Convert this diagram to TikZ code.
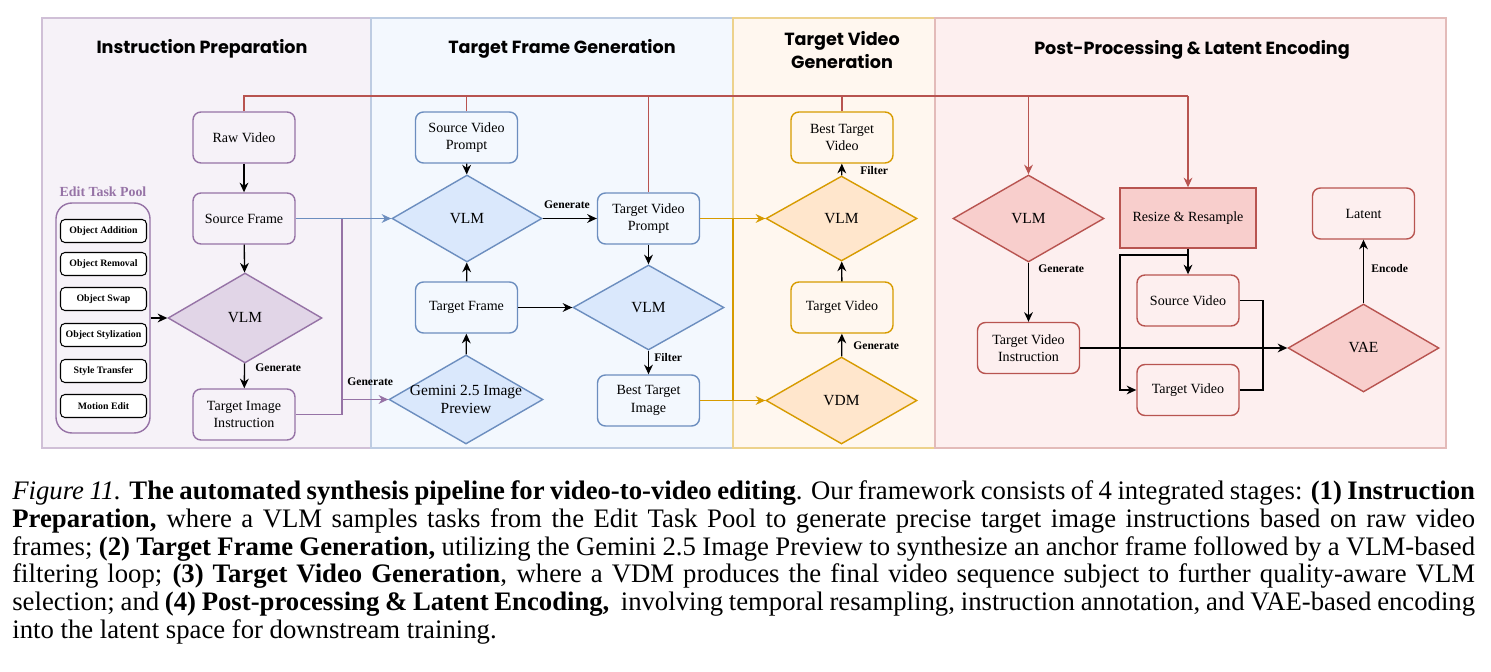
\documentclass[tikz,border=0pt]{standalone}
\usepackage{fontspec}
\setmainfont{Liberation Serif}
\newfontfamily\titlefont{Poppins}
\usetikzlibrary{arrows.meta, shapes.geometric}
\usepackage{xcolor}

\definecolor{purpLine}{HTML}{9673A6}
\definecolor{purpFill}{HTML}{E1D5E7}
\definecolor{blueLine}{HTML}{6C8EBF}
\definecolor{blueFill}{HTML}{DAE8FC}
\definecolor{orgLine}{HTML}{D79B00}
\definecolor{orgFill}{HTML}{FFE6CC}
\definecolor{redLine}{HTML}{B85450}
\definecolor{redFill}{HTML}{F8CECC}

\begin{document}
\begin{tikzpicture}[
    x=0.02cm, y=-0.02cm,
    every node/.style={font=\fontsize{8}{10}\selectfont},
    box/.style={rectangle, draw, rounded corners=4.5pt, line width=0.8pt, align=center, minimum width=2.04cm, minimum height=1.02cm, inner sep=1pt},
    dia/.style={diamond, draw, line width=0.8pt, minimum width=3.02cm, minimum height=1.74cm, inner sep=0pt, font=\fontsize{8.8}{10.5}\selectfont},
    task/.style={rectangle, draw, rounded corners=2.5pt, fill=white, line width=0.6pt, minimum width=1.72cm, minimum height=0.46cm, inner sep=0pt, font=\bfseries\fontsize{5.6}{6.5}\selectfont},
    lbl/.style={anchor=west, inner sep=0pt, font=\bfseries\fontsize{6.6}{8}\selectfont},
    title/.style={align=center, font=\titlefont\bfseries\fontsize{10}{13}\selectfont},
    lane/.style={line width=0.8pt},
    arr/.style={draw, line width=0.75pt, -{Stealth[length=5.5pt, width=5pt]}},
    link/.style={draw, line width=0.75pt}
  ]

  \useasboundingbox (0,0) rectangle (1491,672);

  % swim lanes
  \draw[lane, draw=purpLine!45, fill=purpFill!30] (42,18) rectangle (371,448);
  \draw[lane, draw=blueLine!45, fill=blueFill!32] (371,18) rectangle (733,448);
  \draw[lane, draw=orgLine!45, fill=orgFill!32] (733,18) rectangle (935,448);
  \draw[lane, draw=redLine!40, fill=redFill!32] (935,18) rectangle (1446,448);

  \node[title] (tPrep) at (202,49) {Instruction Preparation};
  \node[title] (tFrame) at (562,49) {Target Frame Generation};
  \node[title] (tVideo) at (842,50) {Target Video\\Generation};
  \node[title] (tPost) at (1192,50) {Post-Processing \& Latent Encoding};

  % instruction preparation
  \node[box, draw=purpLine] (raw) at (244,137.5) {Raw Video};
  \node[box, draw=purpLine] (srcF) at (244,218.5) {Source Frame};
  \node[dia, draw=purpLine, fill=purpFill, minimum width=3.08cm, minimum height=1.8cm] (vlmA) at (245,318) {VLM};
  \node[box, draw=purpLine] (tii) at (244,414.5) {Target Image\\Instruction};

  \node[text=purpLine, font=\bfseries\fontsize{7.9}{9}\selectfont] (poolT) at (103,192) {Edit Task Pool};
  \node[draw=purpLine, line width=0.8pt, rounded corners=9pt, minimum width=1.88cm, minimum height=4.6cm] (pool) at (103,318) {};
  \node[task] (tAdd) at (103.5,231) {Object Addition};
  \node[task] (tRem) at (103.5,264) {Object Removal};
  \node[task] (tSwap) at (103.5,299) {Object Swap};
  \node[task] (tSty) at (103.5,335) {Object Stylization};
  \node[task] (tTrans) at (103.5,371) {Style Transfer};
  \node[task] (tMot) at (103.5,406) {Motion Edit};

  % target frame generation
  \node[box, draw=blueLine] (svp) at (466.5,137.5) {Source Video\\Prompt};
  \node[dia, draw=blueLine, fill=blueFill, minimum width=3.0cm] (vlmB) at (467,218.5) {VLM};
  \node[box, draw=blueLine] (tf) at (466.5,307.5) {Target Frame};
  \node[dia, draw=blueLine, fill=blueFill, minimum width=3.08cm, minimum height=1.78cm,
        label={[align=center, font=\fontsize{8.8}{10.2}\selectfont]center:Gemini 2.5 Image\\Preview}] (gem) at (466,399.5) {};
  \node[box, draw=blueLine] (tvp) at (648.5,218.5) {Target Video\\Prompt};
  \node[dia, draw=blueLine, fill=blueFill, minimum height=1.7cm] (vlmC) at (648.5,307.5) {VLM};
  \node[box, draw=blueLine] (bti) at (648.5,400.5) {Best Target\\Image};

  % target video generation
  \node[box, draw=orgLine] (btv) at (842,137.5) {Best Target\\Video};
  \node[dia, draw=orgLine, fill=orgFill, minimum height=1.7cm] (vlmD) at (841.5,218.5) {VLM};
  \node[box, draw=orgLine] (tvO) at (842,307.5) {Target Video};
  \node[dia, draw=orgLine, fill=orgFill] (vdm) at (841.5,400.5) {VDM};

  % post-processing
  \node[dia, draw=redLine, fill=redFill] (vlmE) at (1028.5,218.5) {VLM};
  \node[rectangle, draw=redLine, fill=redFill, line width=0.8pt, minimum width=2.72cm, minimum height=1.2cm] (rsz) at (1188,218) {Resize \& Resample};
  \node[box, draw=redLine] (lat) at (1363.5,213.5) {Latent};
  \node[box, draw=redLine] (tvi) at (1028.5,348) {Target Video\\Instruction};
  \node[box, draw=redLine] (srcV) at (1188,300.5) {Source Video};
  \node[box, draw=redLine] (tvR) at (1188,390) {Target Video};
  \node[dia, draw=redLine, fill=redFill, minimum height=1.76cm] (vae) at (1363.5,348) {VAE};

  % red bus on top
  \coordinate (busL) at (244,96);
  \coordinate (busR) at (1188,96);
  \draw[link, redLine, line width=0.65pt] (raw.north) |- (busR);
  \draw[link, redLine, line width=0.65pt] (svp.north) -- (svp.north |- busL);
  \draw[link, redLine, line width=0.65pt] (tvp.north) -- (tvp.north |- busL);
  \draw[link, redLine, line width=0.65pt] (btv.north) -- (btv.north |- busL);
  \draw[arr, redLine, line width=0.65pt] (vlmE.north |- busL) -- (vlmE.north);
  \draw[arr, redLine, line width=0.65pt] (busR) -- (rsz.north);

  % lane 1 edges
  \draw[arr] (raw) -- (srcF);
  \draw[arr] (srcF) -- (vlmA);
  \draw[arr] (vlmA) -- (tii);
  \node[lbl] (gen1) at (255,368) {Generate};
  \draw[arr] (pool) -- (vlmA);

  \coordinate (jA) at (342,399.5);
  \draw[link, purpLine] (srcF.east) -| (jA);
  \draw[link, purpLine] (tii.east) -| (jA);
  \draw[arr, purpLine] (jA) -- (gem.west);
  \node[lbl] (gen2) at (347,382) {Generate};
  \draw[arr, blueLine] (srcF.east) -- (vlmB.west);

  % lane 2 edges
  \draw[arr] (svp) -- (vlmB);
  \draw[arr] (vlmB) -- (tvp);
  \node[lbl, anchor=center] (gen3) at (567,205) {Generate};
  \draw[arr] (tf) -- (vlmB);
  \draw[arr] (gem) -- (tf);
  \draw[arr] (tf) -- (vlmC);
  \draw[arr] (tvp) -- (vlmC);
  \draw[arr] (vlmC) -- (bti);
  \node[lbl] (fil1) at (654,358) {Filter};

  \coordinate (jB) at (733,300);
  \draw[arr, orgLine] (tvp.east) -- (vlmD.west);
  \draw[arr, orgLine] (bti.east) -- (vdm.west);
  \draw[link, orgLine] (tvp.east -| jB) -- (bti.east -| jB);

  % lane 3 edges
  \draw[arr] (vdm) -- (tvO);
  \node[lbl] (gen4) at (853,346) {Generate};
  \draw[arr] (tvO) -- (vlmD);
  \draw[arr] (vlmD) -- (btv);
  \node[lbl] (fil2) at (860,171) {Filter};

  % lane 4 edges
  \draw[arr] (vlmE) -- (tvi);
  \node[lbl] (gen5) at (1038,269) {Generate};
  \draw[arr] (rsz) -- (srcV);
  \coordinate (jC) at (1120,255);
  \draw[arr] (rsz.south) |- (jC) |- (tvR.west);
  \coordinate (jD) at (1263,348);
  \draw[link] (srcV.east) -| (jD);
  \draw[link] (tvR.east) -| (jD);
  \draw[arr] (tvi) -- (vae);
  \draw[arr] (vae) -- (lat);
  \node[lbl] (enc) at (1371,269) {Encode};

  % caption
  \node[anchor=north west, inner sep=0pt, text width=29.26cm, align=justify,
        font=\fontsize{15.2}{15.9}\selectfont] (cap) at (12,480) {\hyphenpenalty=10000\exhyphenpenalty=10000\emergencystretch=2em
    {\itshape Figure 11.} \textbf{The automated synthesis pipeline for video-to-video editing}. Our framework consists of 4 integrated stages: \textbf{(1) Instruction}\linebreak
    \textbf{Preparation,} where a VLM samples tasks from the Edit Task Pool to generate precise target image instructions based on raw video\linebreak
    frames; \textbf{(2) Target Frame Generation,} utilizing the Gemini 2.5 Image Preview to synthesize an anchor frame followed by a VLM-based\linebreak
    filtering loop; \textbf{(3) Target Video Generation}, where a VDM produces the final video sequence subject to further quality-aware VLM\linebreak
    selection; and \textbf{(4) Post-processing \& Latent Encoding,}\ \ involving temporal resampling, instruction annotation, and VAE-based encoding\linebreak
    into the latent space for downstream training.};

\end{tikzpicture}
\end{document}
